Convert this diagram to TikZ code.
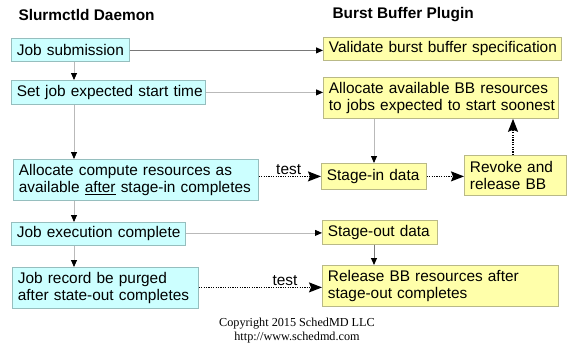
\documentclass[tikz,border=0pt]{standalone}
\usepackage{fontspec}
\setmainfont{Liberation Sans}
\newfontfamily\serifcopy{Liberation Serif}
\usetikzlibrary{arrows.meta,calc}

\definecolor{cfill}{RGB}{204,255,255}
\definecolor{cline}{RGB}{150,190,190}
\definecolor{yfill}{RGB}{255,255,170}
\definecolor{yline}{RGB}{185,185,135}
\definecolor{darkconn}{RGB}{120,120,120}
\definecolor{lightconn}{RGB}{185,185,185}

\tikzset{
  basebox/.style={anchor=north west, inner xsep=5.5pt, inner ysep=0pt,
    align=left, font=\fontsize{15.4}{17}\selectfont, line width=0.8pt},
  daemonbox/.style={basebox, fill=cfill, draw=cline},
  pluginbox/.style={basebox, fill=yfill, draw=yline},
  heading/.style={anchor=west, font=\fontsize{15.4}{17}\selectfont\bfseries},
  flow/.style={draw=lightconn, line width=0.8pt,
    -{Triangle[length=7pt,width=6pt,color=black]}},
  flowdark/.style={flow, draw=darkconn, line width=1pt},
  testflow/.style={draw=black, line width=1.2pt, dash pattern=on 1.2pt off 1.2pt,
    -{Stealth[length=13pt,width=10pt,inset=2pt,color=black]}},
  testlabel/.style={font=\fontsize{15.4}{17}\selectfont, inner sep=1pt}
}
% one unbreakable line of box text
\newcommand\boxline[1]{\mbox{#1}}

\begin{document}
\begin{tikzpicture}[x=1pt,y=-1pt]
\useasboundingbox (0,0) rectangle (567,354);

% column headings
\node[heading] (hdaemon) at (15,15) {Slurmctld Daemon};
\node[heading] (hplugin) at (329,15) {Burst Buffer Plugin};

% slurmctld side
\node[daemonbox, minimum width=118pt, text width=107pt, minimum height=23pt]
  (submit) at (11,38) {\boxline{Job submission}};
\node[daemonbox, minimum width=194pt, text width=183pt, minimum height=24pt]
  (start) at (11,80) {\boxline{Set job expected start time}};
\node[daemonbox, minimum width=245pt, text width=234pt, minimum height=41pt]
  (alloc) at (13,159) {\boxline{Allocate compute resources as}\\\boxline{available \underline{after} stage-in completes}};
\node[daemonbox, minimum width=174pt, text width=163pt, minimum height=23pt]
  (exec) at (11,222) {\boxline{Job execution complete}};
\node[daemonbox, minimum width=186pt, text width=175pt, minimum height=41pt]
  (purge) at (12,267) {\boxline{Job record be purged}\\\boxline{after state-out completes}};

% burst buffer plugin side
\node[pluginbox, minimum width=238pt, text width=227pt, minimum height=23pt]
  (validate) at (323,37) {\boxline{Validate burst buffer specification}};
\node[pluginbox, minimum width=235pt, text width=224pt, minimum height=41pt]
  (bballoc) at (323,77) {\boxline{Allocate available BB resources}\\\boxline{to jobs expected to start soonest}};
\node[pluginbox, minimum width=105pt, text width=94pt, minimum height=26pt]
  (stagein) at (321,163) {\boxline{Stage-in data}};
\node[pluginbox, minimum width=102pt, text width=91pt, minimum height=40pt]
  (revoke) at (464,155) {\boxline{Revoke and}\\\boxline{release BB}};
\node[pluginbox, minimum width=115pt, text width=104pt, minimum height=24pt]
  (stageout) at (322,220) {\boxline{Stage-out data}};
\node[pluginbox, minimum width=236pt, text width=225pt, minimum height=41pt]
  (release) at (322,265) {\boxline{Release BB resources after}\\\boxline{stage-out completes}};

% vertical guide lines
\coordinate (spine) at (74,0);
\coordinate (bbspine) at (374,0);
\coordinate (revspine) at (513,0);

% daemon flow
\draw[flow] (submit.south -| spine) -- (start.north -| spine);
\draw[flow] (start.south -| spine) -- (alloc.north -| spine);
\draw[flow] (alloc.south -| spine) -- (exec.north -| spine);
\draw[flow] (exec.south -| spine) -- (purge.north -| spine);

% daemon to plugin
\draw[flowdark] ($(submit.east)+(0,0.5)$) -- ($(submit.east -| validate.west)+(0,0.5)$);
\draw[flow] (start.east) -- (start.east -| bballoc.west);
\draw[flow] ($(exec.east)+(0,-1)$) -- ($(exec.east -| stageout.west)+(0,-1)$);

% plugin flow
\draw[flow] (bballoc.south -| bbspine) -- (stagein.north -| bbspine);
\draw[flowdark] (stageout.south -| bbspine) -- (release.north -| bbspine);

% test paths
\draw[testflow] (stagein.west -| alloc.east) -- node[testlabel, above, pos=0.48] (test1) {test} (stagein.west);
\draw[testflow] (stagein.east) -- (stagein.east -| revoke.west);
\draw[testflow] (revoke.north -| revspine) -- (bballoc.south -| revspine);
\draw[testflow] ($(purge.east)+(0,-0.5)$) -- node[testlabel, above, pos=0.7] (test2) {test} ($(purge.east -| release.west)+(0,-0.5)$);

% copyright
\node[font=\serifcopy\fontsize{12.2}{14}\selectfont, align=center] (copy) at (297,331)
  {Copyright 2015 SchedMD LLC\\http://www.schedmd.com};
\end{tikzpicture}
\end{document}
